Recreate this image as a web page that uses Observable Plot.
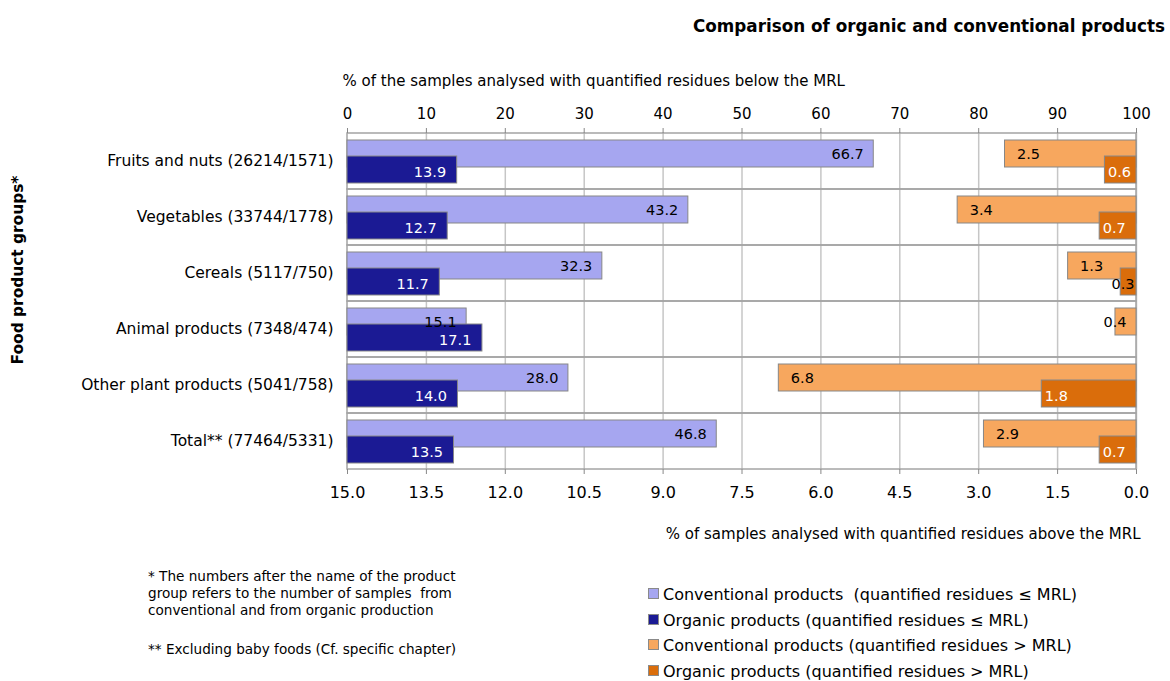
<!DOCTYPE html>
<html><head><meta charset="utf-8">
<script src="https://cdn.jsdelivr.net/npm/d3@7"></script>
<script src="https://cdn.jsdelivr.net/npm/@observablehq/plot@0.6"></script>
<style>
body{margin:0;background:#fff;}
#wrap{position:relative;width:1170px;height:681px;font-family:"DejaVu Sans",sans-serif;color:#000;}
#wrap svg{position:absolute;left:0;top:0;}
.abs{position:absolute;white-space:pre;}
.sw{display:inline-block;width:9px;height:9px;border:1px solid #8a8a8a;margin-right:4px;vertical-align:middle;position:relative;top:-2px;}
</style></head><body><div id="wrap"></div>
<script>
// ---- data ----
const categories = [
  "Fruits and nuts (26214/1571)",
  "Vegetables (33744/1778)",
  "Cereals (5117/750)",
  "Animal products (7348/474)",
  "Other plant products (5041/758)",
  "Total** (77464/5331)"
];
const convBelow = [66.7, 43.2, 32.3, 15.1, 28.0, 46.8];
const orgBelow  = [13.9, 12.7, 11.7, 17.1, 14.0, 13.5];
const convAbove = [2.5, 3.4, 1.3, 0.4, 6.8, 2.9];
const orgAbove  = [0.6, 0.7, 0.3, null, 1.8, 0.7];
const topTicks = [0, 10, 20, 30, 40, 50, 60, 70, 80, 90, 100];
const bottomTickLabels = ["15.0","13.5","12.0","10.5","9.0","7.5","6.0","4.5","3.0","1.5","0.0"];
const aboveMax = 15;
const seriesNames = [
  "Conventional products  (quantified residues \u2264 MRL)",
  "Organic products (quantified residues \u2264 MRL)",
  "Conventional products (quantified residues > MRL)",
  "Organic products (quantified residues > MRL)"
];
const title = "Comparison of organic and conventional products";
const topTitle = "% of the samples analysed with quantified residues below the MRL";
const bottomTitle = "% of samples analysed with quantified residues above the MRL";
const yTitle = "Food product groups*";
const notes = [
  "* The numbers after the name of the product",
  "group refers to the number of samples  from",
  "conventional and from organic production",
  "** Excluding baby foods (Cf. specific chapter)"
];

// ---- styles ----
const colors = ["#a6a6f0", "#1b1a94", "#f7a75e", "#da6d0b"];
const border = "#878787";
const font = "'DejaVu Sans',sans-serif";
const tiny = 0.5;
const valueSize = 14.5;

const fmt = d3.format(".1f");
const toTop = v => 100 - v / aboveMax * 100;
const rows = categories.map((cat, i) => ({
  cat, convBelow: convBelow[i], orgBelow: orgBelow[i], convAbove: convAbove[i], orgAbove: orgAbove[i]
}));
const orgRows = rows.filter(d => d.orgAbove != null);

const chart = Plot.plot({
  width: 1170, height: 681,
  marginLeft: 347, marginRight: 34, marginTop: 132, marginBottom: 212,
  style: {fontFamily: font, fontSize: "15px", color: "#000", background: "transparent"},
  x: {domain: [0, 100]},
  y: {domain: categories, padding: 0},
  marks: [
    Plot.ruleX(topTicks.slice(1), {stroke: "#c6c6c6", strokeWidth: 1.5}),
    Plot.barX(rows, {y: "cat", x1: 0, x2: 100, fill: "none", stroke: "#a4a4a4", strokeWidth: 1.5}),
    Plot.barX(rows, {y: "cat", x: "convBelow", fill: colors[0], stroke: border, insetTop: 7, insetBottom: 22}),
    Plot.barX(rows, {y: "cat", x: "orgBelow", fill: colors[1], stroke: border, insetTop: 23, insetBottom: 6}),
    Plot.barX(rows, {y: "cat", x1: d => toTop(d.convAbove), x2: 100, fill: colors[2], stroke: border, insetTop: 7, insetBottom: 22}),
    Plot.barX(orgRows, {y: "cat", x1: d => toTop(d.orgAbove), x2: 100, fill: colors[3], stroke: border, insetTop: 23, insetBottom: 6}),
    Plot.text(rows, {y: "cat", x: "convBelow", text: d => fmt(d.convBelow), textAnchor: "end", dx: -10, dy: -7, fill: "#000", fontSize: valueSize}),
    Plot.text(rows, {y: "cat", x: "orgBelow", text: d => fmt(d.orgBelow), textAnchor: "end", dx: -11, dy: 11, fill: "#fff", fontSize: valueSize}),
    Plot.text(rows.filter(d => d.convAbove >= tiny), {y: "cat", x: d => toTop(d.convAbove), text: d => fmt(d.convAbove), textAnchor: "start", dx: 12, dy: -7, fill: "#000", fontSize: valueSize}),
    Plot.text(rows.filter(d => d.convAbove < tiny), {y: "cat", x: 100, text: d => fmt(d.convAbove), textAnchor: "end", dx: -10, dy: -7, fill: "#000", fontSize: valueSize}),
    Plot.text(orgRows.filter(d => d.orgAbove >= tiny), {y: "cat", x: d => toTop(d.orgAbove), text: d => fmt(d.orgAbove), textAnchor: "start", dx: 3, dy: 11, fill: "#fff", fontSize: valueSize}),
    Plot.text(orgRows.filter(d => d.orgAbove < tiny), {y: "cat", x: 100, text: d => fmt(d.orgAbove), textAnchor: "end", dx: -2, dy: 11, fill: "#000", fontSize: valueSize}),
    Plot.axisX(topTicks, {anchor: "top", tickSize: 5, tickPadding: 9, fontSize: 15, stroke: "#888", tickFormat: d => String(d), label: null}),
    Plot.axisX(topTicks, {anchor: "bottom", tickSize: 5, tickPadding: 12, fontSize: 16, stroke: "#888", tickFormat: (d, i) => bottomTickLabels[i], label: null}),
    Plot.axisY({tickSize: 0, tickPadding: 14, fontSize: 15.5, label: null}),
    Plot.text([topTitle], {frameAnchor: "top-left", dx: -5, dy: -51, lineAnchor: "middle", fontSize: 15}),
    Plot.text([bottomTitle], {frameAnchor: "bottom-right", dx: 4, dy: 65, lineAnchor: "middle", fontSize: 15})
  ]
});

const wrap = document.getElementById("wrap");
wrap.appendChild(chart);

function addDiv(text, css) {
  const d = document.createElement("div");
  d.className = "abs";
  d.textContent = text;
  Object.assign(d.style, css);
  wrap.appendChild(d);
  return d;
}
addDiv(title, {right: "5px", top: "16px", fontWeight: "bold", fontSize: "16.8px"});
addDiv(yTitle, {left: "18px", top: "270px", fontWeight: "bold", fontSize: "15.4px", transform: "translate(-50%,-50%) rotate(-90deg)"});
const noteTops = [568, 585, 602, 641];
notes.forEach((t, i) => addDiv(t, {left: "148px", top: noteTops[i] + "px", fontSize: "13.6px"}));
seriesNames.forEach((t, i) => {
  const d = addDiv("", {left: "648px", top: (585 + i * 25.7) + "px", fontSize: "16px"});
  const s = document.createElement("span");
  s.className = "sw";
  s.style.background = colors[i];
  d.appendChild(s);
  d.appendChild(document.createTextNode(t));
});
</script></body></html>
